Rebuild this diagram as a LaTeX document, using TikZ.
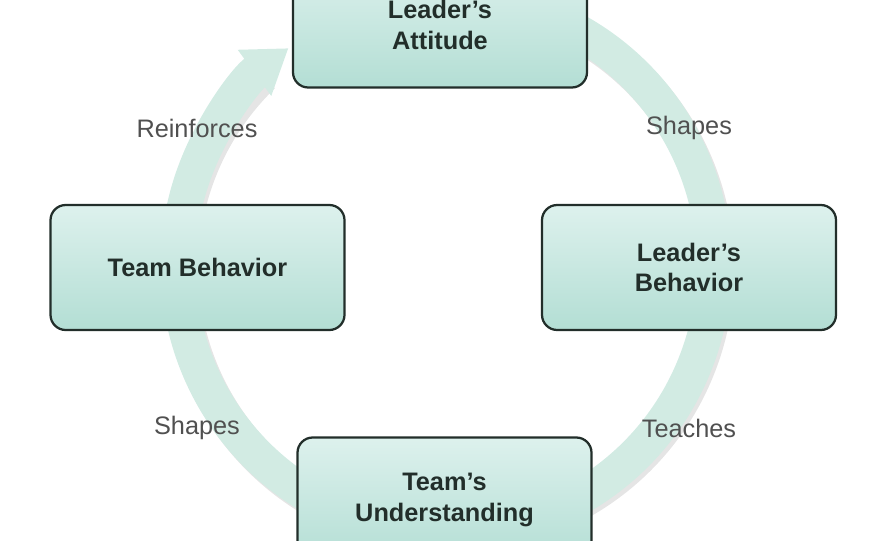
\documentclass[tikz,border=0pt]{standalone}
\usepackage{fontspec}
\setmainfont{Liberation Sans}
\usetikzlibrary{arrows.meta}
\definecolor{mintband}{HTML}{D2EBE3}
\definecolor{minttop}{HTML}{DDF1ED}
\definecolor{mintbot}{HTML}{B3DED4}
\definecolor{boxline}{HTML}{222E2A}
\definecolor{labelgrey}{HTML}{505050}
\begin{document}
\begin{tikzpicture}[
  stage/.style={draw=boxline,line width=1.6pt,rounded corners=0.38cm,
                top color=minttop,bottom color=mintbot,
                minimum width=7.35cm,minimum height=3.125cm,align=center,
                font=\fontsize{18}{21.5}\selectfont\bfseries,text=boxline},
  cue/.style={font=\fontsize{18}{21.5}\selectfont,text=labelgrey}]
  \useasboundingbox (0,0) rectangle (22,13.5);
  % The cycle band, with a soft shadow under it.
  \coordinate (hub) at (11.15,6.875);
  \draw[black!10,line width=0.875cm] ([shift={(0.07,-0.09)}]hub) ++(70:6.7)
    arc[start angle=70,end angle=-226,radius=6.7];
  \draw[mintband,line width=0.875cm,-{Triangle[length=1.05cm,width=1.35cm]}]
    (hub) ++(70:6.7) arc[start angle=70,end angle=-234,radius=6.7];

  % The four stages.
  \node[stage] (attitude) at (11.0,12.875) {Leader’s\\Attitude};
  \node[stage] (behavior) at (17.225,6.8125) {Leader’s\\Behavior};
  \node[stage] (understanding) at (11.1125,1.0) {Team’s\\Understanding};
  \node[stage] (teambehavior) at (4.9375,6.8125) {Team Behavior};

  % What each step does.
  \node[cue] (shapesTop) at (17.225,10.3) {Shapes};
  \node[cue] (teaches) at (17.225,2.8) {Teaches};
  \node[cue] (shapesLow) at (4.925,2.8) {Shapes};
  \node[cue] (reinforces) at (4.925,10.3) {Reinforces};
\end{tikzpicture}
\end{document}
